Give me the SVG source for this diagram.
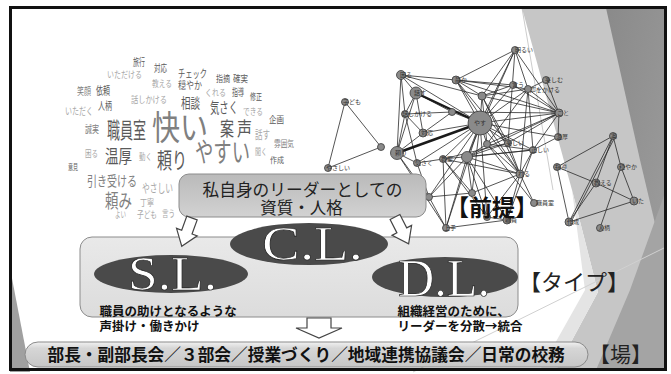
<svg xmlns="http://www.w3.org/2000/svg" width="671" height="374" viewBox="0 0 671 374">
<defs>
<style>
.wc{font-family:"Noto Sans CJK JP","Noto Sans CJK SC",sans-serif}
.d{fill:#5a5a5a}.m{fill:#808080}.l{fill:#a8a8a8}
.e{stroke:#2a2a2a;stroke-width:0.8;fill:none}
.nd{fill:#8a8a8a;stroke:#3a3a3a;stroke-width:0.8}
.nl{font-family:"Noto Sans CJK JP",sans-serif;font-size:6px;fill:#333}
.jp{font-family:"Noto Sans CJK JP","Noto Sans CJK SC",sans-serif}
.big{font-family:"Liberation Serif","DejaVu Serif",serif;fill:#fff;stroke:#222;stroke-width:0.7}
.ell{fill:#4a4a4a}
.arr{fill:#fff;stroke:#444;stroke-width:1.2;stroke-linejoin:miter}
.bl{font-weight:700;fill:#111;font-size:12.5px}
</style>
<linearGradient id="gPrem" x1="0" y1="0" x2="0" y2="1"><stop offset="0" stop-color="#bababa"/><stop offset="1" stop-color="#d2d2d2"/></linearGradient>
<linearGradient id="gType" x1="0" y1="0" x2="0" y2="1"><stop offset="0" stop-color="#e9e9e9"/><stop offset="1" stop-color="#dcdcdc"/></linearGradient>
<linearGradient id="gBar" x1="0" y1="0" x2="0" y2="1"><stop offset="0" stop-color="#f2f2f2"/><stop offset="0.25" stop-color="#d6d6d6"/><stop offset="1" stop-color="#c6c6c6"/></linearGradient>
<linearGradient id="gDark" x1="0" y1="0" x2="1" y2="1"><stop offset="0" stop-color="#8a8a8a"/><stop offset="1" stop-color="#9c9c9c"/></linearGradient>
<polygon id="arrowShape" points="-5.5,0 5.5,0 5.5,15 11,15 0,30 -11,15 -5.5,15"/>
</defs>

<g id="background">
<rect width="671" height="374" fill="#fff"/>
<polygon points="522,8 666,8 666,370 556,370 598,292 572,190" fill="#c6c6c6"/>
<polygon points="572,190 598,292 556,370 540,370 585,290" fill="#e4e4e4"/>
<polygon points="606,8 666,8 666,270 640,160" fill="url(#gDark)"/>
<polygon points="666,190 666,370 596,370 630,290" fill="#a4a4a4"/>
<polygon points="10,268 10,372 30,372" fill="#a0a0a0"/>
<line x1="413" y1="372" x2="666" y2="247" stroke="#d0d0d0" stroke-width="1"/>
<line x1="522" y1="8" x2="553" y2="190" stroke="#aaa" stroke-width="0.6"/>
</g>

<g id="wordcloud" class="wc">
<text x="133" y="66" font-size="10" textLength="12" lengthAdjust="spacingAndGlyphs" class="d">旅行</text>
<text x="107" y="78" font-size="9" textLength="35" lengthAdjust="spacingAndGlyphs" class="l">いただける</text>
<text x="154" y="72" font-size="10" textLength="13" lengthAdjust="spacingAndGlyphs" class="d">対応</text>
<text x="178" y="78" font-size="11" textLength="29" lengthAdjust="spacingAndGlyphs" class="d">チェック</text>
<text x="152" y="87" font-size="9.5" textLength="20" lengthAdjust="spacingAndGlyphs" class="l">教える</text>
<text x="216" y="82" font-size="9.5" textLength="14" lengthAdjust="spacingAndGlyphs" class="d">指摘</text>
<text x="233" y="82" font-size="9.5" textLength="15" lengthAdjust="spacingAndGlyphs" class="d">確実</text>
<text x="178" y="89" font-size="10" textLength="24" lengthAdjust="spacingAndGlyphs" class="d">穏やか</text>
<text x="205" y="96" font-size="9.5" textLength="21" lengthAdjust="spacingAndGlyphs" class="l">くれる</text>
<text x="232" y="96" font-size="10" textLength="12" lengthAdjust="spacingAndGlyphs" class="d">指導</text>
<text x="250" y="100" font-size="9.5" textLength="12" lengthAdjust="spacingAndGlyphs" class="d">修正</text>
<text x="77" y="95" font-size="10" textLength="14" lengthAdjust="spacingAndGlyphs" class="m">笑顔</text>
<text x="96" y="95" font-size="11" textLength="14" lengthAdjust="spacingAndGlyphs" class="d">依頼</text>
<text x="131" y="103" font-size="9.5" textLength="36" lengthAdjust="spacingAndGlyphs" class="l">話しかける</text>
<text x="181" y="108" font-size="14" textLength="19" lengthAdjust="spacingAndGlyphs" class="d">相談</text>
<text x="210" y="113" font-size="15" textLength="28" lengthAdjust="spacingAndGlyphs" class="d">気さく</text>
<text x="243" y="115" font-size="9" textLength="20" lengthAdjust="spacingAndGlyphs" class="l">できる</text>
<text x="65" y="115" font-size="10" textLength="28" lengthAdjust="spacingAndGlyphs" class="l">いただく</text>
<text x="98" y="110" font-size="11" textLength="14" lengthAdjust="spacingAndGlyphs" class="d">人柄</text>
<text x="269" y="123" font-size="9" textLength="15" lengthAdjust="spacingAndGlyphs" class="d">企画</text>
<text x="85" y="133" font-size="10" textLength="14" lengthAdjust="spacingAndGlyphs" class="m">誠実</text>
<text x="107" y="138" font-size="22" textLength="39" lengthAdjust="spacingAndGlyphs" class="d">職員室</text>
<text x="152" y="140" font-size="34" textLength="56" lengthAdjust="spacingAndGlyphs" class="m">快い</text>
<text x="220" y="136" font-size="19" textLength="14" lengthAdjust="spacingAndGlyphs" class="d">案</text>
<text x="237" y="136" font-size="19" textLength="15" lengthAdjust="spacingAndGlyphs" class="d">声</text>
<text x="255" y="139" font-size="11" textLength="15" lengthAdjust="spacingAndGlyphs" class="l">話す</text>
<text x="274" y="147" font-size="9" textLength="20" lengthAdjust="spacingAndGlyphs" class="m">雰囲気</text>
<text x="85" y="157" font-size="9.5" textLength="13" lengthAdjust="spacingAndGlyphs" class="l">困る</text>
<text x="105" y="163" font-size="18" textLength="27" lengthAdjust="spacingAndGlyphs" class="d">温厚</text>
<text x="139" y="160" font-size="9" textLength="13" lengthAdjust="spacingAndGlyphs" class="l">動く</text>
<text x="157" y="168" font-size="22" textLength="30" lengthAdjust="spacingAndGlyphs" class="d">頼り</text>
<text x="195" y="162" font-size="27" textLength="55" lengthAdjust="spacingAndGlyphs" class="m">やすい</text>
<text x="255" y="155" font-size="9" textLength="12" lengthAdjust="spacingAndGlyphs" class="l">聞く</text>
<text x="270" y="163" font-size="8.5" textLength="14" lengthAdjust="spacingAndGlyphs" class="d">作成</text>
<text x="68" y="170" font-size="7.5" textLength="10" lengthAdjust="spacingAndGlyphs" class="d">意見</text>
<text x="87" y="186" font-size="14" textLength="50" lengthAdjust="spacingAndGlyphs" class="m">引き受ける</text>
<text x="142" y="193" font-size="12" textLength="31" lengthAdjust="spacingAndGlyphs" class="l">やさしい</text>
<text x="105" y="208" font-size="19" textLength="27" lengthAdjust="spacingAndGlyphs" class="m">頼み</text>
<text x="140" y="206" font-size="9" textLength="14" lengthAdjust="spacingAndGlyphs" class="l">丁寧</text>
<text x="115" y="218" font-size="9" textLength="11" lengthAdjust="spacingAndGlyphs" class="l">よい</text>
<text x="137" y="218" font-size="9" textLength="20" lengthAdjust="spacingAndGlyphs" class="l">子ども</text>
<text x="162" y="217" font-size="9" textLength="13" lengthAdjust="spacingAndGlyphs" class="l">言う</text>
</g>

<g id="network">
<g id="network-edges">
<path class="e" d="M515 50L456 80M515 50L482 96M515 50L559 113M515 50L480 123M515 50L467 157M515 50L508 143M515 50L528 89
M401 75L416 93M401 75L405 114M401 75L397 153M401 75L456 80M401 75L480 123M401 75L482 96
M456 80L480 123M456 80L482 96M456 80L559 113M456 80L528 89M456 80L513 85M456 80L520 174M456 80L508 143
M513 85L559 113M513 85L480 123M513 85L482 96M546 80L528 89M546 80L559 113
M528 89L559 113M528 89L480 123M528 89L482 96M528 89L487 144M528 89L533 150M528 89L520 174
M416 93L405 114M416 93L397 153M416 93L423 133M416 93L452 112
M482 96L559 113M482 96L480 123M482 96L487 144M482 96L520 174M482 96L508 143
M405 114L423 133M405 114L452 112M405 114L397 153M405 114L417 163
M452 112L480 123M452 112L423 133
M480 123L559 113M480 123L558 137M480 123L487 144M480 123L508 143M480 123L533 150M480 123L467 157M480 123L520 174M480 123L417 163M480 123L443 159M480 123L446 228M480 123L472 193M480 123L429 197M480 123L487 217
M559 113L558 137M559 113L487 144M559 113L508 143M559 113L533 150M559 113L467 157M559 113L452 112
M423 133L480 123M423 133L397 153
M397 153L429 197M397 153L446 228M397 153L417 163
M487 144L467 157M487 144L520 174M487 144L533 150M487 144L534 203
M508 143L520 174M508 143L443 159M508 143L467 157
M533 150L467 157M533 150L520 174M533 150L507 220M533 150L443 159
M417 163L443 159M417 163L429 197
M443 159L520 174M443 159L446 228M443 159L472 193M443 159L487 217
M467 157L520 174M467 157L446 228M467 157L472 193M467 157L429 197M467 157L487 217M467 157L507 220
M520 174L534 203M520 174L507 220M520 174L487 217M520 174L472 193
M507 220L446 228M507 220L487 217M446 228L429 197M558 137L533 150M429 197L472 193
M345 102L328 168M345 102L381 147M328 168L381 147
M557 167L596 183M596 183L634 201M557 167L569 222M613 136L557 167M613 136L596 183M613 136L569 222M615 137L571 222M613 136L621 167M621 167L600 228M621 167L634 201M596 183L569 222M569 222L634 201"/>
<path d="M416 93L480 123M397 153L480 123" stroke="#1a1a1a" stroke-width="2.4" fill="none"/>
</g>
<g id="network-nodes">
<circle class="nd" cx="515" cy="50" r="3.5"/><circle class="nd" cx="401" cy="75" r="4.5"/>
<circle class="nd" cx="456" cy="80" r="4"/><circle class="nd" cx="513" cy="85" r="3.5"/>
<circle class="nd" cx="546" cy="80" r="3.5"/><circle class="nd" cx="528" cy="89" r="3.5"/>
<circle class="nd" cx="416" cy="93" r="6"/><circle class="nd" cx="482" cy="96" r="4"/>
<circle class="nd" cx="405" cy="114" r="3.5"/><circle class="nd" cx="452" cy="112" r="3.5"/>
<circle class="nd" cx="480" cy="123" r="12" fill="#9a9a9a"/><circle class="nd" cx="559" cy="113" r="4"/>
<circle class="nd" cx="423" cy="133" r="4"/><circle class="nd" cx="558" cy="137" r="3.5"/>
<circle class="nd" cx="397" cy="153" r="6.5"/><circle class="nd" cx="487" cy="144" r="3.5"/>
<circle class="nd" cx="508" cy="143" r="3.5"/><circle class="nd" cx="533" cy="150" r="3.5"/>
<circle class="nd" cx="417" cy="163" r="3.5"/><circle class="nd" cx="443" cy="159" r="3.5"/>
<circle class="nd" cx="467" cy="157" r="5.5"/><circle class="nd" cx="520" cy="174" r="4"/>
<circle class="nd" cx="557" cy="167" r="3.5"/><circle class="nd" cx="534" cy="203" r="3.5"/>
<circle class="nd" cx="507" cy="220" r="4"/><circle class="nd" cx="446" cy="228" r="3.5"/>
<circle class="nd" cx="472" cy="193" r="3.5"/><circle class="nd" cx="429" cy="197" r="3.5"/>
<circle class="nd" cx="487" cy="217" r="3.5"/>
<circle class="nd" cx="345" cy="102" r="3.5"/><circle class="nd" cx="381" cy="147" r="3.5"/><circle class="nd" cx="328" cy="168" r="3.5"/>
<circle class="nd" cx="613" cy="136" r="3.5"/><circle class="nd" cx="621" cy="167" r="3.5"/>
<circle class="nd" cx="596" cy="183" r="4"/><circle class="nd" cx="634" cy="201" r="4" fill="#d8d8d8"/>
<circle class="nd" cx="569" cy="222" r="4"/><circle class="nd" cx="600" cy="228" r="3.5"/>
</g>
<g id="network-labels">
<text class="nl" x="515" y="52">明るい</text><text class="nl" x="400" y="77">困る</text>
<text class="nl" x="455" y="82">静か</text><text class="nl" x="512" y="87">言う</text>
<text class="nl" x="545" y="82">楽しむ</text><text class="nl" x="530" y="92">声をかける</text>
<text class="nl" x="414" y="95">話す</text><text class="nl" x="402" y="116">話しかける</text>
<text class="nl" x="474" y="125">やす</text><text class="nl" x="557" y="115">こと</text>
<text class="nl" x="421" y="135">対応</text><text class="nl" x="556" y="139">温厚</text>
<text class="nl" x="395" y="155">頼り</text><text class="nl" x="506" y="145">楽しい</text>
<text class="nl" x="531" y="152">正しい</text><text class="nl" x="415" y="165">気さく</text>
<text class="nl" x="441" y="161">教室</text><text class="nl" x="518" y="176">れる</text>
<text class="nl" x="555" y="169">指導</text><text class="nl" x="536" y="205">職員室</text>
<text class="nl" x="505" y="222">職員</text><text class="nl" x="444" y="230">上手</text>
<text class="nl" x="343" y="104">子ども</text><text class="nl" x="326" y="170">やさしい</text>
<text class="nl" x="611" y="138">案</text><text class="nl" x="619" y="169">穏やか</text>
<text class="nl" x="594" y="185">教える</text><text class="nl" x="632" y="203">いた</text>
<text class="nl" x="567" y="224">作成</text><text class="nl" x="598" y="230">人柄</text>
</g>
</g>

<g id="premise-box">
<rect x="179" y="174" width="247" height="43" rx="10" fill="url(#gPrem)" stroke="#8c8c8c" stroke-width="1"/>
<text class="jp" x="302.5" y="195.5" font-size="16.5" text-anchor="middle" fill="#222" textLength="200" lengthAdjust="spacingAndGlyphs">私自身のリーダーとしての</text>
<text class="jp" x="301.5" y="214" font-size="16.5" text-anchor="middle" fill="#222">資質・人格</text>
</g>

<g id="label-premise"><text class="jp" x="446" y="216" font-size="23" font-weight="700" fill="#111">【前提】</text></g>

<g id="types-box">
<rect x="80" y="237" width="438" height="80" rx="12" fill="url(#gType)" stroke="#8c8c8c" stroke-width="1"/>
</g>

<g id="cl">
<ellipse class="ell" cx="309" cy="244" rx="79" ry="21"/>
<text class="big" x="262" y="260" font-size="48" textLength="101" lengthAdjust="spacingAndGlyphs">C.L.</text>
</g>

<g id="sl">
<ellipse class="ell" cx="171" cy="274" rx="77" ry="19"/>
<text class="big" x="128" y="290" font-size="48" textLength="89" lengthAdjust="spacingAndGlyphs">S.L.</text>
<text class="jp bl" x="99.5" y="316">職員の助けとなるような</text>
<text class="jp bl" x="99.5" y="331">声掛け・働きかけ</text>
</g>

<g id="dl">
<ellipse class="ell" cx="445" cy="277" rx="73" ry="20"/>
<text class="big" x="398" y="296" font-size="52" textLength="92" lengthAdjust="spacingAndGlyphs">D.L.</text>
<text class="jp bl" x="397.5" y="316">組織経営のために、</text>
<text class="jp bl" x="397.5" y="331">リーダーを分散→統合</text>
</g>

<g id="label-type"><text class="jp" x="519" y="290" font-size="22" fill="#222">【タイプ】</text></g>

<g id="field-bar">
<rect x="25" y="342" width="563" height="25" rx="13" ry="12.5" fill="url(#gBar)" stroke="#8a8a8a" stroke-width="1"/>
<text class="jp" x="47.5" y="361" font-size="16.7" font-weight="700" fill="#111">部長・副部長会／３部会／授業づくり／地域連携協議会／日常の校務</text>
</g>

<g id="label-field"><text class="jp" x="589" y="362" font-size="21" fill="#222">【場】</text></g>

<g id="connectors">
<use href="#arrowShape" class="arr" transform="translate(192,218) rotate(20)"/>
<use href="#arrowShape" class="arr" transform="translate(395,217) rotate(-27)"/>
<polygon class="arr" points="307,318 331,318 331,328 342,328 319,338 296,328 307,328"/>
</g>

<rect id="frame" x="10.5" y="7.5" width="655" height="362" fill="none" stroke="#111" stroke-width="3"/>
</svg>
